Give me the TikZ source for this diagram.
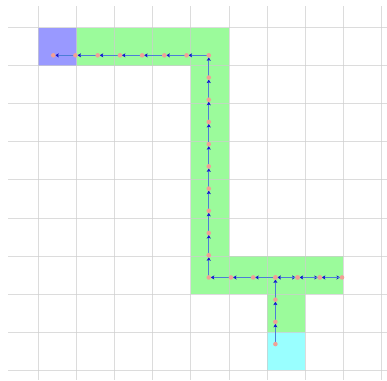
\documentclass[tikz,border=0pt]{standalone}
\usepackage{tikz}
\usetikzlibrary{arrows.meta}

\definecolor{gridgray}{RGB}{205,205,205}
\definecolor{goalblue}{RGB}{153,153,255}
\definecolor{pathgreen}{RGB}{155,251,155}
\definecolor{startcyan}{RGB}{153,255,255}
\definecolor{linkblue}{RGB}{75,125,215}
\definecolor{headblue}{RGB}{20,20,210}
\definecolor{visitpink}{RGB}{240,160,150}

\begin{document}
\begin{tikzpicture}[x=1cm, y=-1cm,
    gridline/.style={gridgray, line width=0.7pt, draw opacity=0.7},
    move/.style={linkblue, line width=0.75pt, shorten >=1.5pt,
        -{Stealth[length=2.6pt, width=3pt, inset=0.6pt, color=headblue]}},
    visit/.style={fill=visitpink}]
    \useasboundingbox (-1.0105,-0.722) rectangle (9.147,9.252);

    % cells
    \fill[goalblue] (0,0) rectangle (1,1);
    \fill[pathgreen] (1,0) rectangle (5,1);
    \fill[pathgreen] (4,1) rectangle (5,6);
    \fill[pathgreen] (4,6) rectangle (8,7);
    \fill[pathgreen] (6,7) rectangle (7,8);
    \fill[startcyan] (6,8) rectangle (7,9);

    % grid
    \foreach \i in {0,...,9} {
        \draw[gridline] (\i,-0.56) -- (\i,9.26);
        \draw[gridline] (-0.8,\i) -- (9.16,\i);
    }

    % visited points
    \begin{scope}[shift={(0.388,0.73)}, x=0.583cm, y=-0.583cm]
        \foreach \px/\py [count=\n] in {10/13, 10/12, 10/11, 10/10, 11/10, 12/10, 13/10,
            12/10, 11/10, 10/10, 9/10, 8/10, 7/10, 7/9, 7/8, 7/7, 7/6, 7/5, 7/4,
            7/3, 7/2, 7/1, 7/0, 6/0, 5/0, 4/0, 3/0, 2/0, 1/0, 0/0}
            \coordinate (p\n) at (\px,\py);
    \end{scope}

    \foreach \m [count=\n] in {2,...,30}
        \draw[move] (p\n) -- (p\m);
    \foreach \n in {1,...,30}
        \fill[visit] (p\n) circle (1.7pt);
\end{tikzpicture}
\end{document}
